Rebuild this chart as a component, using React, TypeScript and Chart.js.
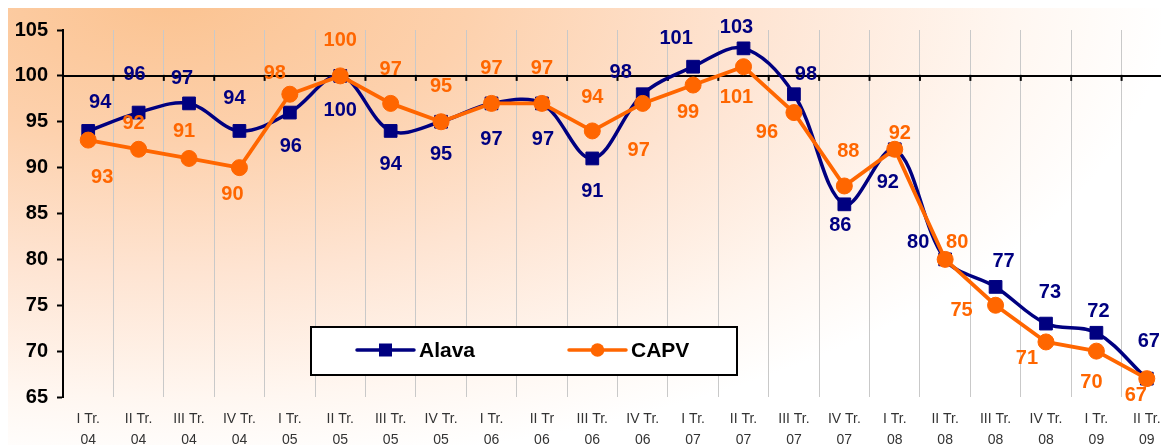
import React, { useEffect, useRef } from 'react';
import { Chart, registerables } from 'chart.js';

Chart.register(...registerables);

const quarters = ['I Tr.', 'II Tr.', 'III Tr.', 'IV Tr.', 'I Tr.', 'II Tr.', 'III Tr.', 'IV Tr.', 'I Tr.', 'II Tr', 'III Tr.', 'IV Tr.', 'I Tr.', 'II Tr.', 'III Tr.', 'IV Tr.', 'I Tr.', 'II Tr.', 'III Tr.', 'IV Tr.', 'I Tr.', 'II Tr.'];
const years = ['04', '04', '04', '04', '05', '05', '05', '05', '06', '06', '06', '06', '07', '07', '07', '07', '08', '08', '08', '08', '09', '09'];
const categories = quarters.map((q, i) => [q, years[i]]);

const alava = [94, 96, 97, 94, 96, 100, 94, 95, 97, 97, 91, 98, 101, 103, 98, 86, 92, 80, 77, 73, 72, 67];
const capv = [93, 92, 91, 90, 98, 100, 97, 95, 97, 97, 94, 97, 99, 101, 96, 88, 92, 80, 75, 71, 70, 67];

const yTicks = [65, 70, 75, 80, 85, 90, 95, 100, 105];
const referenceValue = 100;

// label placement relative to each point (dx, dy in px)
const alavaLabelOffsets: [number, number][] = [
  [12, -29], [-4, -39], [-7, -26], [-5, -33], [1, 33], [0, 34], [0, 33], [0, 32], [0, 35], [1, 35], [0, 32],
  [-22, -23], [-17, -29], [-7, -22], [12, -21], [-4, 20], [-7, 32], [-27, -18], [8, -26], [4, -32], [2, -22], [2, -38],
];
const capvLabelOffsets: [number, number][] = [
  [14, 36], [-5, -27], [-5, -28], [-7, 26], [-15, -22], [0, -36], [0, -35], [0, -36], [0, -36], [0, -36], [0, -34],
  [-4, 46], [-5, 26], [-7, 30], [-27, 19], [4, -35], [5, -17], [12, -18], [-34, 4], [-19, 16], [-5, 30], [-11, 16],
];

const NAVY = '#000080';
const ORANGE = '#FF6600';
const FONT = "'Liberation Sans', Arial, sans-serif";

const backgroundPlugin = {
  id: 'bgGradient',
  beforeDraw(chart: any) {
    const ctx = chart.ctx;
    const w = chart.width;
    const h = chart.height;
    ctx.save();
    ctx.fillStyle = '#ffffff';
    ctx.fillRect(0, 0, w, h);
    const cx = 160, cy = -8, rx = 1000, ry = 470;
    ctx.translate(cx, cy);
    ctx.scale(1, ry / rx);
    const g = ctx.createRadialGradient(0, 0, 0, 0, 0, rx);
    g.addColorStop(0, '#FBC391');
    g.addColorStop(0.3, '#FDD1AD');
    g.addColorStop(0.58, '#FEE4D2');
    g.addColorStop(0.85, '#FFF7F1');
    g.addColorStop(1, '#FFFFFF');
    ctx.fillStyle = g;
    ctx.fillRect(-cx - 10, -2000, w + 40, 4000);
    ctx.restore();
  },
};

const refLinePlugin = {
  id: 'refLine',
  beforeDatasetsDraw(chart: any) {
    const { ctx, chartArea, scales } = chart;
    const y = scales.y.getPixelForValue(referenceValue);
    const x = scales.x;
    ctx.save();
    ctx.strokeStyle = '#000';
    ctx.lineWidth = 2;
    ctx.beginPath();
    ctx.moveTo(chartArea.left, y);
    ctx.lineTo(chartArea.right + 20, y);
    ctx.stroke();
    const half = (x.getPixelForValue(1) - x.getPixelForValue(0)) / 2;
    ctx.lineWidth = 2;
    for (let i = 0; i <= categories.length; i++) {
      const px = x.getPixelForValue(0) - half + i * half * 2;
      ctx.beginPath();
      ctx.moveTo(px, y - 1);
      ctx.lineTo(px, y + 5);
      ctx.stroke();
    }
    ctx.restore();
  },
};

const dataLabelPlugin = {
  id: 'dataLabels',
  afterDatasetsDraw(chart: any) {
    const ctx = chart.ctx;
    ctx.save();
    ctx.font = `bold 20px ${FONT}`;
    ctx.textAlign = 'center';
    ctx.textBaseline = 'middle';
    chart.data.datasets.forEach((ds: any, di: number) => {
      const meta = chart.getDatasetMeta(di);
      const offs = ds.labelOffsets as [number, number][];
      ctx.fillStyle = ds.borderColor;
      meta.data.forEach((pt: any, i: number) => {
        const [dx, dy] = offs[i];
        ctx.fillText(String(ds.data[i]), pt.x + dx, pt.y + dy + 1);
      });
    });
    ctx.restore();
  },
};

const legendBoxPlugin = {
  id: 'legendBox',
  afterDraw(chart: any) {
    const ctx = chart.ctx;
    const bx = 303, by = 319, bw = 426, bh = 48;
    ctx.save();
    ctx.fillStyle = '#ffffff';
    ctx.fillRect(bx, by, bw, bh);
    ctx.strokeStyle = '#000';
    ctx.lineWidth = 2;
    ctx.strokeRect(bx, by, bw, bh);
    const cy = by + bh / 2 - 1;
    const items = [
      { ds: chart.data.datasets[0], x0: 349, shape: 'rect' },
      { ds: chart.data.datasets[1], x0: 561, shape: 'circle' },
    ];
    items.forEach((it) => {
      const c = it.ds.borderColor;
      ctx.strokeStyle = c;
      ctx.fillStyle = c;
      ctx.lineWidth = 3.5;
      ctx.lineCap = 'round';
      ctx.beginPath();
      ctx.moveTo(it.x0, cy);
      ctx.lineTo(it.x0 + 57, cy);
      ctx.stroke();
      const mx = it.x0 + 28.5;
      if (it.shape === 'rect') {
        ctx.fillRect(mx - 6.5, cy - 6.5, 13, 13);
      } else {
        ctx.beginPath();
        ctx.arc(mx, cy, 6.8, 0, Math.PI * 2);
        ctx.fill();
      }
      ctx.fillStyle = '#000';
      ctx.font = `bold 21px ${FONT}`;
      ctx.textAlign = 'left';
      ctx.textBaseline = 'middle';
      ctx.fillText(it.ds.label, it.x0 + 62, cy + 1);
    });
    ctx.restore();
  },
};

export default function App() {
  const ref = useRef<HTMLCanvasElement | null>(null);
  useEffect(() => {
    if (!ref.current) return;
    const chart = new Chart(ref.current, {
      type: 'line',
      data: {
        labels: categories,
        datasets: [
          {
            label: 'Alava',
            data: alava,
            borderColor: NAVY,
            backgroundColor: NAVY,
            borderWidth: 3.5,
            tension: 0.35,
            pointStyle: 'rect',
            pointRadius: 9,
            pointBorderWidth: 1,
            pointBackgroundColor: NAVY,
            pointBorderColor: NAVY,
            clip: false,
            order: 1,
            labelOffsets: alavaLabelOffsets,
          } as any,
          {
            label: 'CAPV',
            data: capv,
            borderColor: ORANGE,
            backgroundColor: ORANGE,
            borderWidth: 3.8,
            tension: 0,
            pointStyle: 'circle',
            pointRadius: 8,
            pointBorderWidth: 1,
            pointBackgroundColor: ORANGE,
            pointBorderColor: ORANGE,
            clip: false,
            order: 0,
            labelOffsets: capvLabelOffsets,
          } as any,
        ],
      },
      options: {
        animation: false,
        responsive: false,
        devicePixelRatio: 1,
        layout: { padding: { left: 0, top: 22, right: 16, bottom: 0 } },
        plugins: {
          legend: { display: false },
          tooltip: { enabled: false },
        },
        scales: {
          x: {
            type: 'category',
            offset: true,
            grid: {
              display: true,
              offset: true,
              color: '#c9c9c9',
              lineWidth: 1,
              drawTicks: false,
            },
            border: { display: false },
            ticks: {
              autoSkip: false,
              maxRotation: 0,
              minRotation: 0,
              padding: 12,
              color: '#333',
              font: { family: FONT, size: 14, lineHeight: 1.5 },
            },
            afterFit(scale: any) {
              scale.height = 56;
            },
          },
          y: {
            type: 'linear',
            min: 65,
            max: 105,
            afterBuildTicks(scale: any) {
              scale.ticks = yTicks.map((v) => ({ value: v }));
            },
            grid: {
              drawOnChartArea: false,
              drawTicks: true,
              tickLength: 6,
              tickColor: '#000',
              tickWidth: 2,
            },
            border: { display: true, color: '#000', width: 2 },
            ticks: {
              padding: 9,
              color: '#000',
              font: { family: FONT, size: 20, weight: 'bold' },
            },
            afterFit(scale: any) {
              scale.width = 55;
            },
          },
        },
      } as any,
      plugins: [backgroundPlugin, refLinePlugin, dataLabelPlugin, legendBoxPlugin],
    });
    return () => chart.destroy();
  }, []);

  return (
    <div style={{ position: 'fixed', left: 8, top: 8, width: 1153, height: 437, overflow: 'hidden' }}>
      <canvas ref={ref} width={1180} height={445} style={{ display: 'block' }} />
    </div>
  );
}
